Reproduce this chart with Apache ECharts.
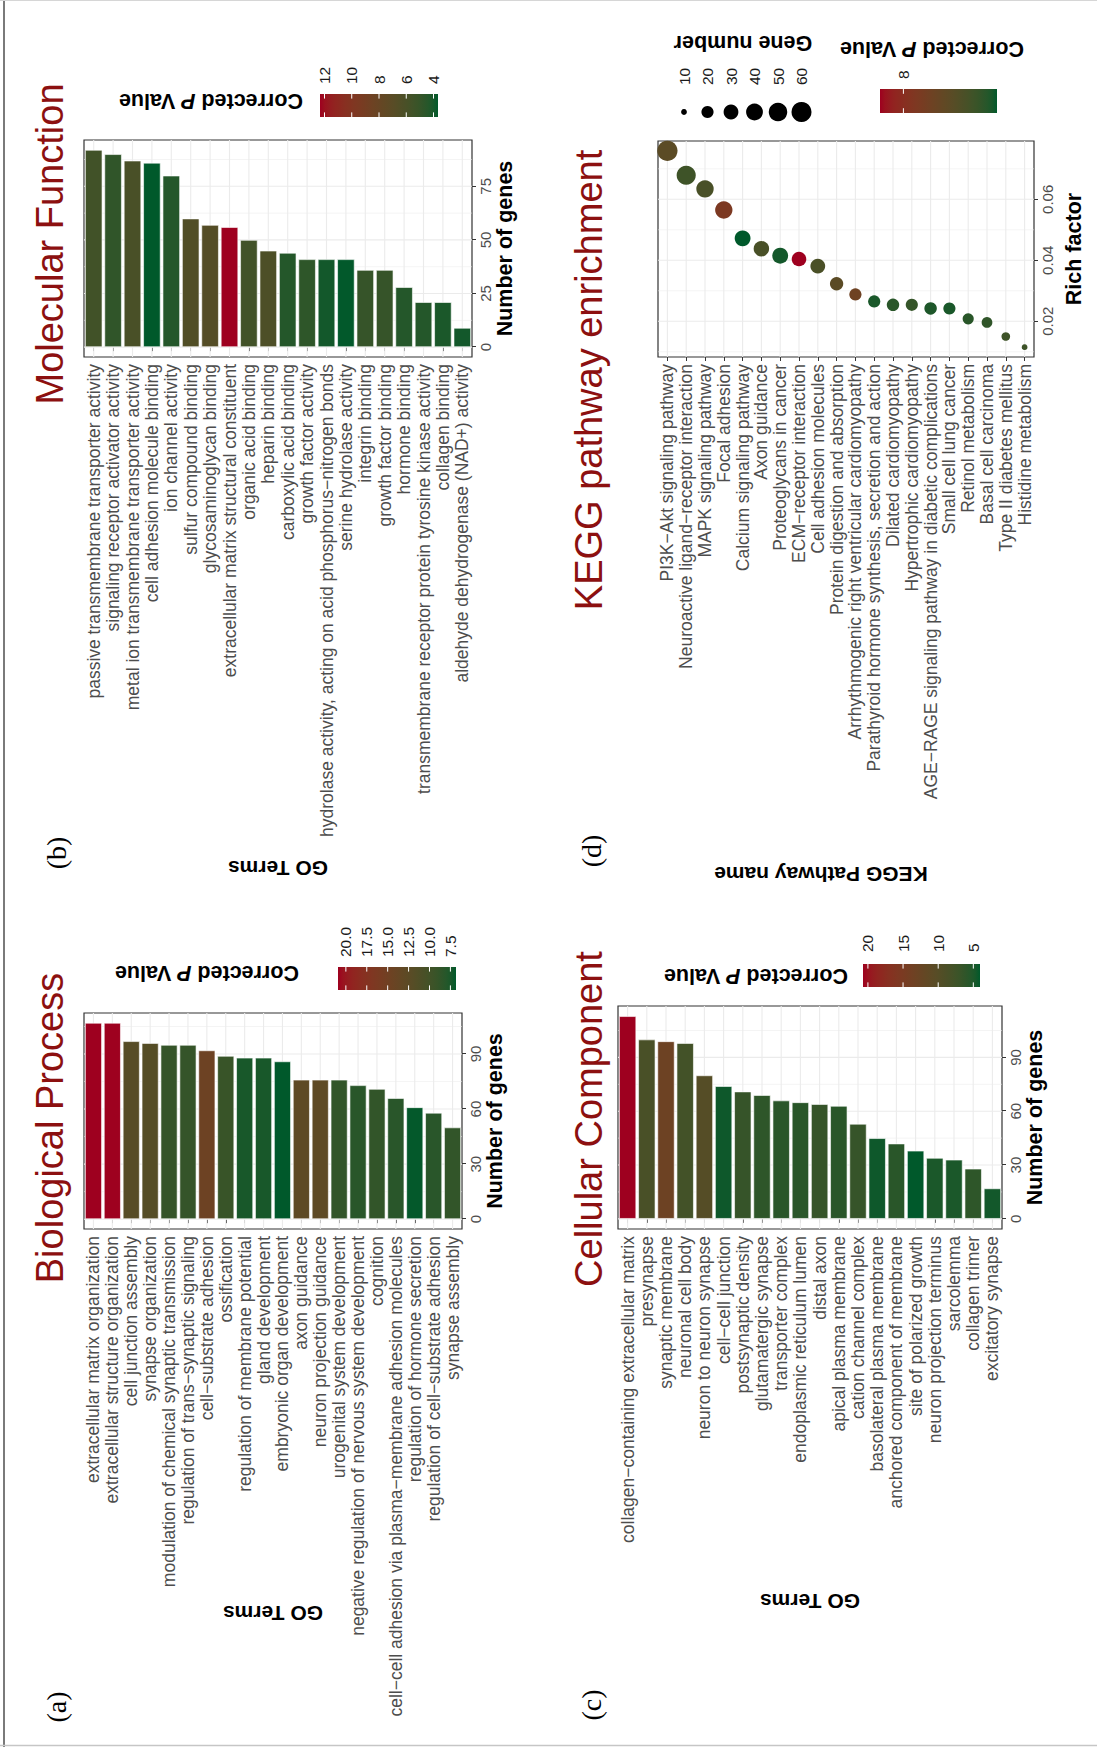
<!DOCTYPE html>
<html>
<head>
<meta charset="utf-8">
<title>GO and KEGG enrichment</title>
<script src="https://cdn.jsdelivr.net/npm/echarts@6.0.0/dist/echarts.min.js"></script>
<style>
  html, body { margin: 0; padding: 0; width: 1097px; height: 1747px; overflow: hidden; background: #fff; }
  /* the figure is laid out landscape and turned a quarter turn to fit the portrait page */
  #fig { position: absolute; left: 0; top: 0; width: 1747px; height: 1097px;
         transform-origin: 0 0; transform: translate(0, 1747px) rotate(-90deg); }
</style>
</head>
<body>
<div id="fig"></div>
<script>
// ---------------- data ----------------
const bpTerms = [
  'extracellular matrix organization', 'extracellular structure organization', 'cell junction assembly',
  'synapse organization', 'modulation of chemical synaptic transmission', 'regulation of trans\u2212synaptic signaling',
  'cell\u2212substrate adhesion', 'ossification', 'regulation of membrane potential', 'gland development',
  'embryonic organ development', 'axon guidance', 'neuron projection guidance', 'urogenital system development',
  'negative regulation of nervous system development', 'cognition',
  'cell\u2212cell adhesion via plasma\u2212membrane adhesion molecules', 'regulation of hormone secretion',
  'regulation of cell\u2212substrate adhesion', 'synapse assembly'];
const bpGenes = [107, 107, 97, 96, 95, 95, 92, 89, 88, 88, 86, 76, 76, 76, 73, 71, 66, 61, 58, 50];
const bpPval  = [20.94, 20.9, 12.1, 11.8, 9.0, 9.0, 14.6, 9.2, 7.4, 7.4, 6.83, 12.8, 12.8, 8.8, 8.2, 8.8, 8.2, 6.9, 8.2, 8.8];
const bpGeneTicks = [0, 30, 60, 90];
const bpGeneMinor = [15, 45, 75, 105];
const bpPTicks = [20, 17.5, 15, 12.5, 10, 7.5];

const mfTerms = [
  'passive transmembrane transporter activity', 'signaling receptor activator activity',
  'metal ion transmembrane transporter activity', 'cell adhesion molecule binding', 'ion channel activity',
  'sulfur compound binding', 'glycosaminoglycan binding', 'extracellular matrix structural constituent',
  'organic acid binding', 'heparin binding', 'carboxylic acid binding', 'growth factor activity',
  'hydrolase activity, acting on acid phosphorus\u2212nitrogen bonds', 'serine hydrolase activity',
  'integrin binding', 'growth factor binding', 'hormone binding',
  'transmembrane receptor protein tyrosine kinase activity', 'collagen binding',
  'aldehyde dehydrogenase (NAD+) activity'];
const mfGenes = [92, 90, 87, 86, 80, 60, 57, 56, 50, 45, 44, 41, 41, 41, 36, 36, 28, 21, 21, 9];
const mfPval  = [5.6, 4.8, 6.0, 3.67, 4.36, 6.5, 6.7, 12.33, 5.66, 6.27, 4.36, 4.7, 3.93, 3.7, 5.06, 5.06, 4.36, 4.36, 4.1, 3.93];
const mfGeneTicks = [0, 25, 50, 75];
const mfGeneMinor = [12.5, 37.5, 62.5, 87.5];
const mfPTicks = [12, 10, 8, 6, 4];

const ccTerms = [
  'collagen\u2212containing extracellular matrix', 'presynapse', 'synaptic membrane', 'neuronal cell body',
  'neuron to neuron synapse', 'cell\u2212cell junction', 'postsynaptic density', 'glutamatergic synapse',
  'transporter complex', 'endoplasmic reticulum lumen', 'distal axon', 'apical plasma membrane',
  'cation channel complex', 'basolateral plasma membrane', 'anchored component of membrane',
  'site of polarized growth', 'neuron projection terminus', 'sarcolemma', 'collagen trimer', 'excitatory synapse'];
const ccGenes = [113, 100, 99, 98, 80, 74, 71, 69, 66, 65, 64, 63, 53, 45, 42, 38, 34, 33, 28, 17];
const ccPval  = [20.7, 8.55, 13.2, 7.9, 10.0, 4.4, 6.7, 6.05, 5.7, 5.7, 6.7, 5.7, 6.7, 4.4, 5.7, 4.05, 4.9, 4.9, 6.05, 4.55];
const ccGeneTicks = [0, 30, 60, 90];
const ccGeneMinor = [15, 45, 75, 105];
const ccPTicks = [20, 15, 10, 5];

const keggTerms = [
  'PI3K\u2212Akt signaling pathway', 'Neuroactive ligand\u2212receptor interaction', 'MAPK signaling pathway',
  'Focal adhesion', 'Calcium signaling pathway', 'Axon guidance', 'Proteoglycans in cancer',
  'ECM\u2212receptor interaction', 'Cell adhesion molecules', 'Protein digestion and absorption',
  'Arrhythmogenic right ventricular cardiomyopathy', 'Parathyroid hormone synthesis, secretion and action',
  'Dilated cardiomyopathy', 'Hypertrophic cardiomyopathy',
  'AGE\u2212RAGE signaling pathway in diabetic complications', 'Small cell lung cancer', 'Retinol metabolism',
  'Basal cell carcinoma', 'Type II diabetes mellitus', 'Histidine metabolism'];
const keggRich  = [0.0759, 0.0679, 0.0634, 0.0565, 0.0472, 0.0438, 0.0415, 0.0404, 0.0381, 0.0323,
                   0.0288, 0.0265, 0.0254, 0.0254, 0.0242, 0.0242, 0.0208, 0.0196, 0.0150, 0.0115];
const keggGenes = [62, 54, 43, 43, 35, 33, 35, 29, 30, 24, 20, 20, 21, 20, 21, 20, 17, 16, 12, 10];
const keggPval  = [7.0, 6.5, 6.68, 7.7, 6.0, 6.68, 6.08, 8.5, 6.7, 7.0, 7.38, 6.12, 6.25, 6.38, 6.15, 6.12, 6.25, 6.32, 6.5, 6.5];
const keggRichTicks = [0.02, 0.04, 0.06];
const keggRichMinor = [0.01, 0.03, 0.05, 0.07];
const keggPTicks = [8];
const keggSizeBreaks = [10, 20, 30, 40, 50, 60];

// ---------------- styling ----------------
const FONT = '"Liberation Sans", Arial, Helvetica, sans-serif';
const SERIF = '"Liberation Serif", "Times New Roman", serif';
const TITLE_RED = '#8C1010';
const LOW = '#00592B', HIGH = '#9E001F';

// colour gradient interpolated in CIE Lab between the low and high colours
const WP = [0.95047, 1, 1.08883];
function hexRgb(h) { const n = parseInt(h.slice(1), 16); return [(n >> 16) & 255, (n >> 8) & 255, n & 255]; }
function toLin(c) { c /= 255; return c <= 0.04045 ? c / 12.92 : Math.pow((c + 0.055) / 1.055, 2.4); }
function fromLin(c) { c = c <= 0.0031308 ? 12.92 * c : 1.055 * Math.pow(c, 1 / 2.4) - 0.055; return Math.round(255 * Math.min(1, Math.max(0, c))); }
function fLab(t) { return t > 0.008856 ? Math.cbrt(t) : 7.787 * t + 16 / 116; }
function fInv(t) { return t > 0.206893 ? t * t * t : (t - 16 / 116) / 7.787; }
function rgbLab(rgb) {
  const [r, g, b] = rgb.map(toLin);
  const X = (0.4124 * r + 0.3576 * g + 0.1805 * b) / WP[0];
  const Y = 0.2126 * r + 0.7152 * g + 0.0722 * b;
  const Z = (0.0193 * r + 0.1192 * g + 0.9505 * b) / WP[2];
  const fx = fLab(X), fy = fLab(Y), fz = fLab(Z);
  return [116 * fy - 16, 500 * (fx - fy), 200 * (fy - fz)];
}
function labRgb(lab) {
  const fy = (lab[0] + 16) / 116, fx = fy + lab[1] / 500, fz = fy - lab[2] / 200;
  const X = fInv(fx) * WP[0], Y = fInv(fy), Z = fInv(fz) * WP[2];
  return [fromLin(3.2406 * X - 1.5372 * Y - 0.4986 * Z),
          fromLin(-0.9689 * X + 1.8758 * Y + 0.0415 * Z),
          fromLin(0.0557 * X - 0.2040 * Y + 1.0570 * Z)];
}
const LAB_LO = rgbLab(hexRgb(LOW)), LAB_HI = rgbLab(hexRgb(HIGH));
function gradColor(t) {
  t = Math.max(0, Math.min(1, t));
  const c = labRgb(LAB_LO.map((v, i) => v + (LAB_HI[i] - v) * t));
  return 'rgb(' + c[0] + ',' + c[1] + ',' + c[2] + ')';
}

// panel boxes (landscape figure coordinates)
const BOX = {
  a: { x: 518, y: 84, w: 216, h: 378 },
  b: { x: 1390, y: 84, w: 217, h: 388 },
  c: { x: 518, y: 618, w: 223, h: 384 },
  d: { x: 1390, y: 658, w: 216, h: 376 }
};

const grids = [], xAxes = [], yAxes = [], series = [], graphics = [];

function gridOf(b) {
  return { left: b.x, top: b.y, width: b.w, height: b.h, show: true, backgroundColor: '#fff',
           borderColor: '#333333', borderWidth: 1.2, containLabel: false };
}

function valueAxis(i, lo, hi, ticks, name, gap, fmt) {
  return {
    type: 'value', gridIndex: i, min: lo, max: hi,
    axisLine: { show: false }, splitLine: { show: false },
    axisTick: { show: true, customValues: ticks, length: 4, lineStyle: { color: '#333333', width: 1 } },
    axisLabel: { customValues: ticks, formatter: fmt, color: '#4d4d4d', fontSize: 15, fontFamily: FONT, margin: 6 },
    name: name, nameLocation: 'middle', nameGap: gap, nameMoveOverlap: false,
    nameTextStyle: { color: '#000', fontSize: 21.5, fontWeight: 'bold', fontFamily: FONT }
  };
}

function catAxis(i, terms, name, gap, pad) {
  return {
    type: 'category', gridIndex: i, data: terms, inverse: true,
    axisLine: { show: false }, splitLine: { show: false },
    axisTick: { show: true, alignWithLabel: true, interval: 0, length: 4, lineStyle: { color: '#333333', width: 1 } },
    axisLabel: { interval: 0, color: '#4d4d4d', fontSize: 17.5, fontFamily: FONT, margin: 7 },
    name: name, nameLocation: 'middle', nameGap: gap, nameRotate: 90, nameMoveOverlap: false,
    nameTextStyle: { color: '#000', fontSize: 21, fontWeight: 'bold', fontFamily: FONT, padding: pad }
  };
}

// light background grid: major/minor value lines and one line per category
function gridLines(i, majors, minors, nCat) {
  const d = [];
  majors.forEach(v => d.push([v, 0, 0]));
  minors.forEach(v => d.push([v, 0, 1]));
  for (let k = 0; k < nCat; k++) d.push([majors[0], k, 2]);
  return {
    type: 'custom', xAxisIndex: i, yAxisIndex: i, z: 1, silent: true, animation: false, data: d,
    renderItem: function (params, api) {
      const cs = params.coordSys;
      const kind = api.value(2);
      if (kind === 2) {
        const y = api.coord([api.value(0), api.value(1)])[1];
        return { type: 'line', shape: { x1: cs.x, y1: y, x2: cs.x + cs.width, y2: y },
                 style: { stroke: '#ebebeb', lineWidth: 1.1 } };
      }
      const x = api.coord([api.value(0), 0])[0];
      return { type: 'line', shape: { x1: x, y1: cs.y, x2: x, y2: cs.y + cs.height },
               style: { stroke: '#ebebeb', lineWidth: kind === 0 ? 1.1 : 0.55 } };
    }
  };
}

function addBarPanel(i, box, terms, genes, pvals, ticks, minors, catGap, catPad) {
  const gmax = Math.max(...genes);
  const pmin = Math.min(...pvals), pmax = Math.max(...pvals);
  grids.push(gridOf(box));
  xAxes.push(valueAxis(i, -0.05 * gmax, 1.05 * gmax, ticks, 'Number of genes', 22));
  yAxes.push(catAxis(i, terms, 'GO Terms', catGap, catPad));
  series.push(gridLines(i, ticks, minors, terms.length));
  series.push({
    type: 'bar', xAxisIndex: i, yAxisIndex: i, z: 2, barCategoryGap: '10%', animation: false,
    itemStyle: { borderColor: 'rgba(255,255,255,0.75)', borderWidth: 0.8 },
    data: genes.map((g, k) => ({ value: g, itemStyle: { color: gradColor((pvals[k] - pmin) / (pmax - pmin)) } }))
  });
  return { pmin: pmin, pmax: pmax };
}

// ----- legends -----
const legendTitleRich = {
  b: { fontSize: 21.5, fontWeight: 'bold', fontFamily: FONT, fill: '#000' },
  i: { fontSize: 21.5, fontWeight: 'bold', fontStyle: 'italic', fontFamily: FONT, fill: '#000' }
};
function verticalTitle(x, y, text, rich) {
  graphics.push({ type: 'text', x: x, y: y, rotation: Math.PI / 2, z: 10,
    style: { text: text, rich: rich, fontSize: 21.5, fontWeight: 'bold', fontFamily: FONT, fill: '#000',
             align: 'center', verticalAlign: 'middle' } });
}
function colorbar(x, y, w, h, range, ticks, fmt, labelX) {
  const stops = [];
  for (let k = 0; k <= 24; k++) stops.push({ offset: k / 24, color: gradColor(1 - k / 24) });
  graphics.push({ type: 'rect', z: 10, shape: { x: x, y: y, width: w, height: h },
    style: { fill: new echarts.graphic.LinearGradient(0, 0, 0, 1, stops) } });
  ticks.forEach(v => {
    const ty = y + (range.pmax - v) / (range.pmax - range.pmin) * h;
    graphics.push({ type: 'line', z: 11, shape: { x1: x, y1: ty, x2: x + w / 5, y2: ty }, style: { stroke: '#fff', lineWidth: 1 } });
    graphics.push({ type: 'line', z: 11, shape: { x1: x + w - w / 5, y1: ty, x2: x + w, y2: ty }, style: { stroke: '#fff', lineWidth: 1 } });
    graphics.push({ type: 'text', z: 11, x: labelX, y: ty,
      style: { text: fmt(v), fill: '#1a1a1a', fontSize: 15.5, fontFamily: FONT, align: 'left', verticalAlign: 'middle' } });
  });
}
function panelTitle(x, y, text) {
  graphics.push({ type: 'text', x: x, y: y, z: 10,
    style: { text: text, fill: TITLE_RED, fontSize: 38, fontFamily: FONT, align: 'center', verticalAlign: 'middle' } });
}
function panelTag(x, y, text) {
  graphics.push({ type: 'text', x: x, y: y, z: 10,
    style: { text: text, fill: '#000', fontSize: 28, fontFamily: SERIF, align: 'center', verticalAlign: 'middle' } });
}

// ---------------- panels ----------------
const rA = addBarPanel(0, BOX.a, bpTerms, bpGenes, bpPval, bpGeneTicks, bpGeneMinor, 374, 0);
const rB = addBarPanel(1, BOX.b, mfTerms, mfGenes, mfPval, mfGeneTicks, mfGeneMinor, 501, 0);
const rC = addBarPanel(2, BOX.c, ccTerms, ccGenes, ccPval, ccGeneTicks, ccGeneMinor, 362, 0);

// KEGG dot plot
const rMin = Math.min(...keggRich), rMax = Math.max(...keggRich), rPad = 0.05 * (rMax - rMin);
const gMin = Math.min(...keggGenes), gMax = Math.max(...keggGenes);
const kRange = { pmin: Math.min(...keggPval), pmax: Math.max(...keggPval) };
function dotSize(n) { return 5.8 + 14.5 * Math.sqrt(Math.max(0, (n - gMin) / (gMax - gMin))); }
grids.push(gridOf(BOX.d));
xAxes.push(valueAxis(3, rMin - rPad, rMax + rPad, keggRichTicks, 'Rich factor', 29, v => v.toFixed(2)));
yAxes.push(catAxis(3, keggTerms, 'KEGG Pathway name', 507, [0, 0, 0, 50]));
series.push(gridLines(3, keggRichTicks, keggRichMinor, keggTerms.length));
series.push({
  type: 'scatter', xAxisIndex: 3, yAxisIndex: 3, z: 3, animation: false,
  data: keggRich.map((r, k) => ({
    value: [r, k], symbolSize: dotSize(keggGenes[k]),
    itemStyle: { color: gradColor((keggPval[k] - kRange.pmin) / (kRange.pmax - kRange.pmin)), opacity: 1 }
  }))
});

// ---------------- legends ----------------
const fmt1 = v => v.toFixed(1);
const fmt0 = v => String(v);
verticalTitle(774, 207, '{b|Corrected }{i|P}{b| Value}', legendTitleRich);
colorbar(757, 338, 23, 118, rA, bpPTicks, fmt1, 790);

verticalTitle(1646, 211, '{b|Corrected }{i|P}{b| Value}', legendTitleRich);
colorbar(1630, 320, 23, 118, rB, mfPTicks, fmt0, 1663);

verticalTitle(771, 756, '{b|Corrected }{i|P}{b| Value}', legendTitleRich);
colorbar(760, 863, 23, 117, rC, ccPTicks, fmt0, 795);

verticalTitle(1704, 743, 'Gene number', null);
keggSizeBreaks.forEach((n, k) => {
  const cy = 684 + k * 23.5;
  graphics.push({ type: 'circle', z: 10, shape: { cx: 1635, cy: cy, r: dotSize(n) / 2 }, style: { fill: '#000' } });
  graphics.push({ type: 'text', z: 10, x: 1662, y: cy,
    style: { text: String(n), fill: '#1a1a1a', fontSize: 15.5, fontFamily: FONT, align: 'left', verticalAlign: 'middle' } });
});
verticalTitle(1698, 932, '{b|Corrected }{i|P}{b| Value}', legendTitleRich);
colorbar(1634, 880, 24, 117, kRange, keggPTicks, fmt0, 1668);

// ---------------- titles, tags, frame ----------------
panelTitle(619, 50, 'Biological Process');
panelTitle(1503, 50, 'Molecular Function');
panelTitle(628, 589, 'Cellular Component');
panelTitle(1367, 589, 'KEGG pathway enrichment');
panelTag(40, 56, '(a)');
panelTag(894, 56, '(b)');
panelTag(42, 591, '(c)');
panelTag(896, 591, '(d)');
graphics.push({ type: 'line', z: 12, shape: { x1: 0, y1: 4, x2: 1747, y2: 4 }, style: { stroke: '#7a7a7a', lineWidth: 2 } });
graphics.push({ type: 'line', z: 12, shape: { x1: 1.5, y1: 0, x2: 1.5, y2: 1097 }, style: { stroke: '#c6c6c6', lineWidth: 1.5 } });
graphics.push({ type: 'line', z: 12, shape: { x1: 1746.5, y1: 0, x2: 1746.5, y2: 1097 }, style: { stroke: '#d6d6d6', lineWidth: 1 } });

const chart = echarts.init(document.getElementById('fig'), null, { renderer: 'svg', width: 1747, height: 1097 });
chart.setOption({
  animation: false,
  backgroundColor: '#fff',
  textStyle: { fontFamily: FONT },
  grid: grids,
  xAxis: xAxes,
  yAxis: yAxes,
  series: series,
  graphic: graphics
});
</script>
</body>
</html>
